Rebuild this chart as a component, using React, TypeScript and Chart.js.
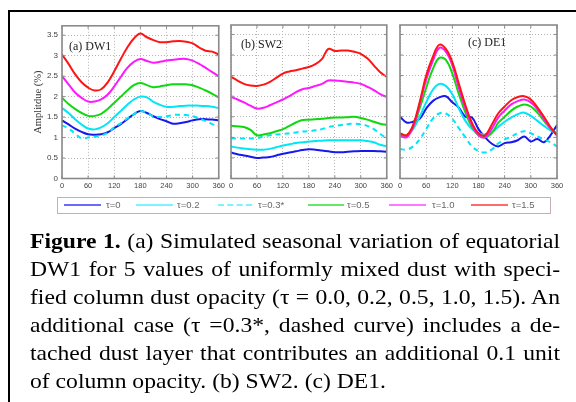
import React, { useEffect, useRef } from "react";
import { Chart, registerables } from "chart.js";
Chart.register(...registerables);

// Solar longitude (deg) sample points
const lon = [0, 15, 30, 45, 60, 75, 90, 105, 120, 135, 150, 165, 180, 195, 210, 225, 240, 255, 270, 285, 300, 315, 330, 345, 360];
const xTicks = [0, 60, 120, 180, 240, 300, 360];
const yTicks = [0, 0.5, 1, 1.5, 2, 2.5, 3, 3.5];
const seriesLabels = ["τ=0", "τ=0.2", "τ=0.3*", "τ=0.5", "τ=1.0", "τ=1.5"];

// (a) DW1
const dw1_t0 = [1.42, 1.32, 1.22, 1.14, 1.08, 1.07, 1.08, 1.13, 1.23, 1.33, 1.45, 1.57, 1.65, 1.6, 1.52, 1.45, 1.4, 1.34, 1.35, 1.38, 1.42, 1.45, 1.45, 1.44, 1.42];
const dw1_t02 = [1.72, 1.6, 1.45, 1.32, 1.22, 1.2, 1.25, 1.35, 1.5, 1.65, 1.8, 1.93, 2.0, 1.98, 1.87, 1.8, 1.75, 1.75, 1.77, 1.78, 1.78, 1.78, 1.77, 1.75, 1.72];
const dw1_t03 = [1.3, 1.22, 1.1, 0.98, 1.0, 1.02, 1.05, 1.12, 1.25, 1.35, 1.47, 1.57, 1.65, 1.6, 1.52, 1.5, 1.52, 1.55, 1.56, 1.55, 1.52, 1.47, 1.4, 1.33, 1.27];
const dw1_t05 = [1.97, 1.82, 1.7, 1.6, 1.53, 1.53, 1.58, 1.7, 1.85, 2.0, 2.15, 2.28, 2.33, 2.28, 2.23, 2.25, 2.28, 2.3, 2.3, 2.3, 2.28, 2.22, 2.15, 2.07, 1.98];
const dw1_t10 = [2.5, 2.3, 2.1, 1.97, 1.88, 1.88, 1.93, 2.05, 2.25, 2.48, 2.7, 2.85, 2.92, 2.87, 2.83, 2.85, 2.88, 2.9, 2.92, 2.92, 2.88, 2.8, 2.7, 2.6, 2.5];
const dw1_t15 = [3.03, 2.8, 2.55, 2.35, 2.22, 2.15, 2.18, 2.35, 2.62, 2.92, 3.2, 3.42, 3.54, 3.45, 3.38, 3.33, 3.33, 3.35, 3.36, 3.34, 3.3, 3.2, 3.12, 3.1, 3.03];

// (b) SW2
const sw2_t0 = [0.63, 0.59, 0.56, 0.53, 0.5, 0.51, 0.52, 0.56, 0.6, 0.63, 0.66, 0.69, 0.71, 0.7, 0.68, 0.66, 0.64, 0.64, 0.65, 0.66, 0.67, 0.67, 0.67, 0.66, 0.65];
const sw2_t02 = [0.78, 0.75, 0.73, 0.71, 0.7, 0.7, 0.72, 0.76, 0.8, 0.83, 0.86, 0.88, 0.9, 0.91, 0.92, 0.93, 0.93, 0.93, 0.93, 0.93, 0.93, 0.91, 0.88, 0.82, 0.78];
const sw2_t03 = [0.98, 0.97, 0.97, 0.97, 0.98, 1.02, 1.05, 1.07, 1.08, 1.1, 1.12, 1.14, 1.15, 1.17, 1.2, 1.25, 1.28, 1.3, 1.32, 1.33, 1.32, 1.28, 1.2, 1.08, 0.98];
const sw2_t05 = [1.28, 1.27, 1.25, 1.18, 1.05, 1.07, 1.1, 1.15, 1.2, 1.28, 1.36, 1.42, 1.43, 1.44, 1.45, 1.47, 1.48, 1.48, 1.49, 1.5, 1.47, 1.43, 1.38, 1.33, 1.3];
const sw2_t10 = [1.98, 1.92, 1.85, 1.77, 1.7, 1.72, 1.78, 1.85, 1.92, 2.0, 2.1, 2.17, 2.2, 2.25, 2.3, 2.38, 2.38, 2.37, 2.35, 2.33, 2.3, 2.23, 2.15, 2.05, 1.98];
const sw2_t15 = [2.47, 2.38, 2.3, 2.26, 2.25, 2.28, 2.35, 2.45, 2.55, 2.6, 2.63, 2.67, 2.71, 2.78, 2.9, 3.15, 3.1, 3.11, 3.11, 3.08, 3.03, 2.92, 2.75, 2.58, 2.47];

// (c) DE1
const de1_t0 = [1.5, 1.36, 1.38, 1.45, 1.7, 1.88, 1.97, 2.0, 1.85, 1.72, 1.5, 1.48, 1.2, 1.0, 0.85, 0.78, 0.86, 0.88, 0.93, 1.02, 0.9, 0.96, 0.88, 1.05, 1.3];
const de1_t02 = [1.05, 1.05, 1.2, 1.5, 1.85, 2.15, 2.3, 2.25, 2.05, 1.7, 1.4, 1.2, 1.1, 1.07, 1.12, 1.25, 1.38, 1.48, 1.56, 1.6, 1.52, 1.4, 1.28, 1.17, 1.1];
const de1_t03 = [0.72, 0.7, 0.78, 0.95, 1.2, 1.45, 1.58, 1.58, 1.45, 1.22, 1.0, 0.78, 0.67, 0.63, 0.7, 0.85, 0.95, 1.02, 1.1, 1.15, 1.1, 1.02, 0.95, 0.88, 0.78];
const de1_t05 = [1.08, 1.05, 1.25, 1.7, 2.2, 2.65, 2.93, 2.88, 2.55, 2.05, 1.6, 1.25, 1.05, 1.0, 1.1, 1.35, 1.5, 1.65, 1.75, 1.8, 1.75, 1.6, 1.4, 1.22, 1.08];
const de1_t10 = [1.05, 1.0, 1.25, 1.8, 2.4, 2.85, 3.17, 3.08, 2.75, 2.2, 1.7, 1.3, 1.05, 1.0, 1.2, 1.48, 1.65, 1.8, 1.88, 1.92, 1.85, 1.68, 1.45, 1.22, 1.05];
const de1_t15 = [1.1, 1.05, 1.3, 1.85, 2.5, 2.95, 3.25, 3.15, 2.83, 2.3, 1.78, 1.35, 1.1, 1.05, 1.3, 1.58, 1.75, 1.9, 1.98, 2.0, 1.92, 1.73, 1.5, 1.25, 1.05];

const lineColors = ["#1818ee", "#00e6f6", "#00e6f6", "#10d810", "#ff18ff", "#ff1414"];
const legendColors = ["#6a6aff", "#7cf4ff", "#7cf4ff", "#66e866", "#ff78ff", "#ff6a6a"];
const dashed = [false, false, true, false, false, false];

const panelTitles = ["(a) DW1", "(b) SW2", "(c) DE1"];

const framePlugin = {
  id: "frameBox",
  afterDatasetsDraw(chart: any) {
    const { ctx, chartArea } = chart;
    const { left, top, right, bottom } = chartArea;
    const xs = chart.scales.x;
    const ys = chart.scales.y;
    ctx.save();
    ctx.strokeStyle = "#8a8a8a";
    ctx.lineWidth = 1;
    ctx.beginPath();
    xTicks.forEach((v) => {
      const px = xs.getPixelForValue(v);
      ctx.moveTo(px, bottom);
      ctx.lineTo(px, bottom - 3);
      ctx.moveTo(px, top);
      ctx.lineTo(px, top + 3);
    });
    yTicks.forEach((v) => {
      const py = ys.getPixelForValue(v);
      ctx.moveTo(left, py);
      ctx.lineTo(left + 3, py);
      ctx.moveTo(right, py);
      ctx.lineTo(right - 3, py);
    });
    ctx.stroke();
    ctx.lineWidth = 1.6;
    ctx.strokeRect(left, top, right - left, bottom - top);
    ctx.restore();
  },
};

type PanelProps = {
  left: number;
  top: number;
  width: number;
  height: number;
  padRight: number;
  yWidth: number;
  xHeight: number;
  showY: boolean;
  series: number[][];
};

function Panel(p: PanelProps) {
  const ref = useRef<HTMLCanvasElement>(null);
  useEffect(() => {
    if (!ref.current) return;
    const datasets = p.series.map((vals, i) => ({
      label: seriesLabels[i],
      data: lon.map((x, k) => ({ x, y: vals[k] })),
      borderColor: lineColors[i],
      backgroundColor: lineColors[i],
      borderWidth: 2,
      borderDash: dashed[i] ? [5, 4] : [],
      pointRadius: 0,
      tension: 0.4,
      fill: false,
      order: 5 - i,
    }));
    const chart = new Chart(ref.current, {
      type: "line",
      data: { datasets },
      plugins: [framePlugin],
      options: {
        animation: false,
        responsive: false,
        layout: { padding: { top: 8, right: p.padRight, left: 0, bottom: 0 } },
        plugins: { legend: { display: false }, tooltip: { enabled: false } },
        scales: {
          x: {
            type: "linear",
            min: 0,
            max: 360,
            afterBuildTicks: (s: any) => {
              s.ticks = xTicks.map((v) => ({ value: v }));
            },
            afterFit: (s: any) => {
              s.height = p.xHeight;
            },
            ticks: {
              autoSkip: false,
              maxRotation: 0,
              padding: 3,
              color: "#444",
              font: { family: "Liberation Sans", size: 7.5 },
              callback: (v: any) => String(v),
            },
            grid: { color: "#b4b4b4", lineWidth: 1, drawTicks: false },
            border: { display: false, dash: [1, 2] },
          },
          y: {
            type: "linear",
            min: 0,
            max: 3.73,
            afterBuildTicks: (s: any) => {
              s.ticks = yTicks.map((v) => ({ value: v }));
            },
            afterFit: (s: any) => {
              s.width = p.yWidth;
            },
            ticks: {
              display: p.showY,
              padding: 4,
              color: "#444",
              font: { family: "Liberation Sans", size: 8 },
              callback: (v: any) => String(v),
            },
            title: {
              display: p.showY,
              text: "Amplitdue (%)",
              color: "#333",
              font: { family: "Liberation Serif", size: 10.5 },
              padding: { top: 14, bottom: 0 },
            },
            grid: { color: "#b4b4b4", lineWidth: 1, drawTicks: false },
            border: { display: false, dash: [1, 2] },
          },
        },
      },
    } as any);
    return () => chart.destroy();
  }, []);
  return (
    <canvas
      ref={ref}
      width={p.width}
      height={p.height}
      style={{ position: "absolute", left: p.left, top: p.top, width: p.width, height: p.height }}
    />
  );
}

const captionLines = [
  "(a) Simulated seasonal variation of equatorial",
  "DW1 for 5 values of uniformly mixed dust with speci-",
  "fied column dust opacity (τ = 0.0, 0.2, 0.5, 1.0, 1.5). An",
  "additional case (τ =0.3*, dashed curve) includes a de-",
  "tached dust layer that contributes an additional 0.1 unit",
  "of column opacity. (b) SW2. (c) DE1.",
];

const legendItems = [
  { lineX: 64, lineW: 37, textX: 106 },
  { lineX: 136, lineW: 37, textX: 177 },
  { lineX: 218, lineW: 34, textX: 258 },
  { lineX: 308, lineW: 36, textX: 347 },
  { lineX: 389, lineW: 37, textX: 432 },
  { lineX: 471, lineW: 37, textX: 512 },
];

export default function App() {
  const SCALE = 1.125;
  const innerW = 530 / SCALE;
  return (
    <div style={{ position: "absolute", left: 0, top: 0, width: 576, height: 402, overflow: "hidden", background: "#fff" }}>
      <div
        style={{
          position: "absolute",
          left: 8,
          top: 10,
          width: 600,
          height: 420,
          borderLeft: "2px solid #000",
          borderTop: "2px solid #000",
          boxSizing: "border-box",
        }}
      />
      <Panel left={18} top={17} width={210} height={183} padRight={8} yWidth={44} xHeight={21.5} showY={true}
        series={[dw1_t0, dw1_t02, dw1_t03, dw1_t05, dw1_t10, dw1_t15]} />
      <Panel left={224} top={17} width={172} height={183} padRight={7} yWidth={7} xHeight={21.5} showY={false}
        series={[sw2_t0, sw2_t02, sw2_t03, sw2_t05, sw2_t10, sw2_t15]} />
      <Panel left={393} top={17} width={183} height={183} padRight={19} yWidth={7} xHeight={21.5} showY={false}
        series={[de1_t0, de1_t02, de1_t03, de1_t05, de1_t10, de1_t15]} />
      {[
        { x: 69, y: 39 },
        { x: 241, y: 37 },
        { x: 468, y: 35 },
      ].map((t, i) => (
        <div key={i} style={{ position: "absolute", left: t.x, top: t.y, font: '12px "Liberation Serif"', color: "#222", whiteSpace: "nowrap", lineHeight: "14px" }}>
          {panelTitles[i]}
        </div>
      ))}
      <div style={{ position: "absolute", left: 57, top: 197, width: 494, height: 17, border: "1.5px solid #c4b0b0", boxSizing: "border-box" }} />
      {legendItems.map((it, i) => (
        <React.Fragment key={i}>
          <div style={{ position: "absolute", left: it.lineX, top: 204, width: it.lineW, height: 0, borderTop: `2px ${dashed[i] ? "dashed" : "solid"} ${legendColors[i]}` }} />
          <div style={{ position: "absolute", left: it.textX, top: 199, font: '9.5px "Liberation Sans"', color: "#666", lineHeight: "12px", whiteSpace: "nowrap" }}>
            {seriesLabels[i]}
          </div>
        </React.Fragment>
      ))}
      <div style={{ position: "absolute", left: 30, top: 227, width: 540, font: '21px "Liberation Serif"', color: "#000" }}>
        {captionLines.map((ln, i) => (
          <div
            key={i}
            style={{
              width: innerW,
              height: 28,
              lineHeight: "28px",
              textAlign: "justify",
              textAlignLast: i === captionLines.length - 1 ? "left" : "justify",
              transform: `scaleX(${SCALE})`,
              transformOrigin: "0 0",
            } as any}
          >
            {i === 0 ? <b>Figure 1. </b> : null}
            {ln}
          </div>
        ))}
      </div>
    </div>
  );
}
